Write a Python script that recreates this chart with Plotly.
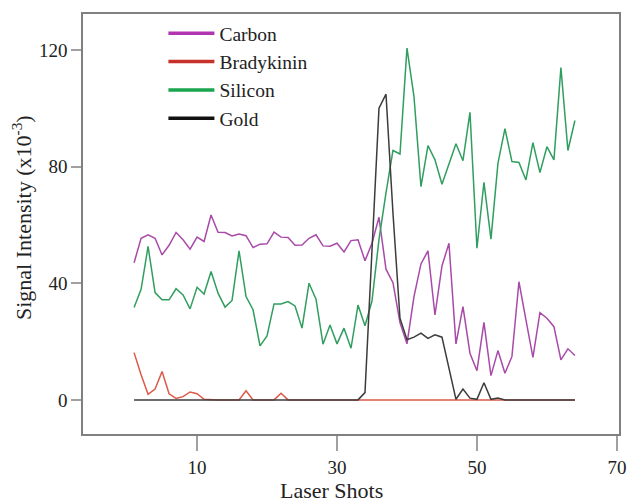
import plotly.graph_objects as go

shots = list(range(1, 65))

carbon = [47, 55.4, 56.6, 55.4, 49.7, 53, 57.4, 54.9, 51.7, 55.8,
          54.3, 63.4, 57.5, 57.4, 56.2, 56.9, 56.3, 52.2, 53.4, 53.5,
          57.5, 55.8, 55.7, 53, 53.1, 55.4, 56.6, 52.8, 52.7, 53.7,
          50.7, 54.6, 54.9, 47.7, 53.7, 62.6, 44.8, 40.2, 26.5, 19.2,
          35.4, 46.6, 51.1, 29.1, 45.9, 53.7, 19.2, 32, 16, 10,
          26.6, 8.3, 16.9, 9.1, 14.9, 40.5, 27.4, 14.6, 29.9, 28,
          25.1, 13.7, 17.5, 15.2]

bradykinin = [16.2, 8.6, 1.9, 3.7, 9.7, 2.1, 0.5, 1.1, 2.7, 2.1,
              0.2, 0, 0, 0, 0, 0, 3.1, 0, 0, 0,
              0, 2.3, 0, 0, 0, 0, 0, 0, 0, 0,
              0, 0, 0, 0, 0, 0, 0, 0, 0, 0,
              0, 0, 0, 0, 0, 0, 0, 0, 0, 0,
              0, 0, 0, 0, 0, 0, 0, 0, 0, 0,
              0, 0, 0, 0]

silicon = [31.7, 37.9, 52.6, 36.8, 34.3, 34.3, 38.1, 36, 31.2, 38.6,
           36.3, 44, 36.6, 31.8, 34.1, 51.1, 35.4, 30.9, 18.5, 21.9,
           32.9, 32.9, 33.7, 32.2, 24.6, 40, 34.5, 19.1, 25.7, 19.2,
           24.6, 17.7, 32.5, 25.4, 33.9, 55, 71, 85.5, 84.3, 120.6,
           104, 73.1, 87.2, 82.3, 73.9, 80.9, 87.8, 82, 98.6, 52,
           74.6, 55.1, 81.1, 93, 81.7, 81.4, 75.4, 88.2, 77.9, 86.8,
           82.3, 113.9, 85.5, 95.8]

gold = [0, 0, 0, 0, 0, 0, 0, 0, 0, 0,
        0, 0, 0, 0, 0, 0, 0, 0, 0, 0,
        0, 0, 0, 0, 0, 0, 0, 0, 0, 0,
        0, 0, 0, 2.5, 50, 100, 104.8, 64, 28, 20.6,
        21.5, 22.9, 21.1, 22.3, 21.5, 10.3, 0.2, 3.7, 0.6, 0.2,
        5.9, 0.2, 0.6, 0, 0, 0, 0, 0, 0, 0,
        0, 0, 0, 0]

x_ticks = [10, 30, 50, 70]
y_ticks = [0, 40, 80, 120]

series = [
    ("Carbon", carbon, "#a94aa9", "#b134b1"),
    ("Bradykinin", bradykinin, "#dd5a48", "#c8302a"),
    ("Silicon", silicon, "#2f9e5e", "#1aa54e"),
    ("Gold", gold, "#3c3c3c", "#111111"),
]

FONT = "Liberation Serif, Times New Roman, serif"

fig = go.Figure()
for name, vals, col, _ in series:
    fig.add_trace(go.Scatter(x=shots, y=vals, mode="lines", name=name,
                             line=dict(color=col, width=1.5),
                             showlegend=False, hoverinfo="x+y+name"))
for name, _, _, lcol in series:
    fig.add_trace(go.Scatter(x=[None], y=[None], mode="lines", name=name,
                             line=dict(color=lcol, width=3.5), showlegend=True))

fig.update_layout(
    width=631, height=502,
    margin=dict(l=83, r=12, t=14, b=68, autoexpand=False),
    paper_bgcolor="white", plot_bgcolor="white",
    font=dict(family=FONT, size=19, color="#222222"),
    showlegend=True,
    legend=dict(x=0.15, y=1.0, xanchor="left", yanchor="top",
                bgcolor="rgba(0,0,0,0)", font=dict(size=19.5, family=FONT),
                itemwidth=46, tracegroupgap=0),
    xaxis=dict(range=[-6.3, 70.3], tickvals=x_ticks, ticktext=[str(v) for v in x_ticks],
               showgrid=False, zeroline=False, showline=True, mirror=True,
               linecolor="#808080", linewidth=1.5, automargin=False,
               ticks="outside", ticklen=15, tickwidth=1.5, tickcolor="#a0a0a0",
               tickfont=dict(size=19, family=FONT, color="#222222")),
    yaxis=dict(range=[-11.7, 132.3], tickvals=y_ticks, ticktext=[str(v) for v in y_ticks],
               showgrid=False, zeroline=False, showline=True, mirror=True,
               linecolor="#808080", linewidth=1.5, automargin=False,
               ticks="outside", ticklen=10, tickwidth=1.5, tickcolor="#a0a0a0",
               tickfont=dict(size=19, family=FONT, color="#222222")),
    annotations=[
        dict(text="Laser Shots", xref="paper", yref="paper",
             x=(331 - 83) / 536, y=-(490 - 434) / 420,
             xanchor="center", yanchor="middle", showarrow=False,
             font=dict(size=22, family=FONT, color="#222222")),
        dict(text="Signal Intensity (x10<sup>-3</sup>)", xref="paper", yref="paper",
             x=-(83 - 22) / 536, y=(434 - 218) / 420, textangle=-90,
             xanchor="center", yanchor="middle", showarrow=False,
             font=dict(size=22, family=FONT, color="#222222")),
    ],
)

fig.write_html("out.html")
